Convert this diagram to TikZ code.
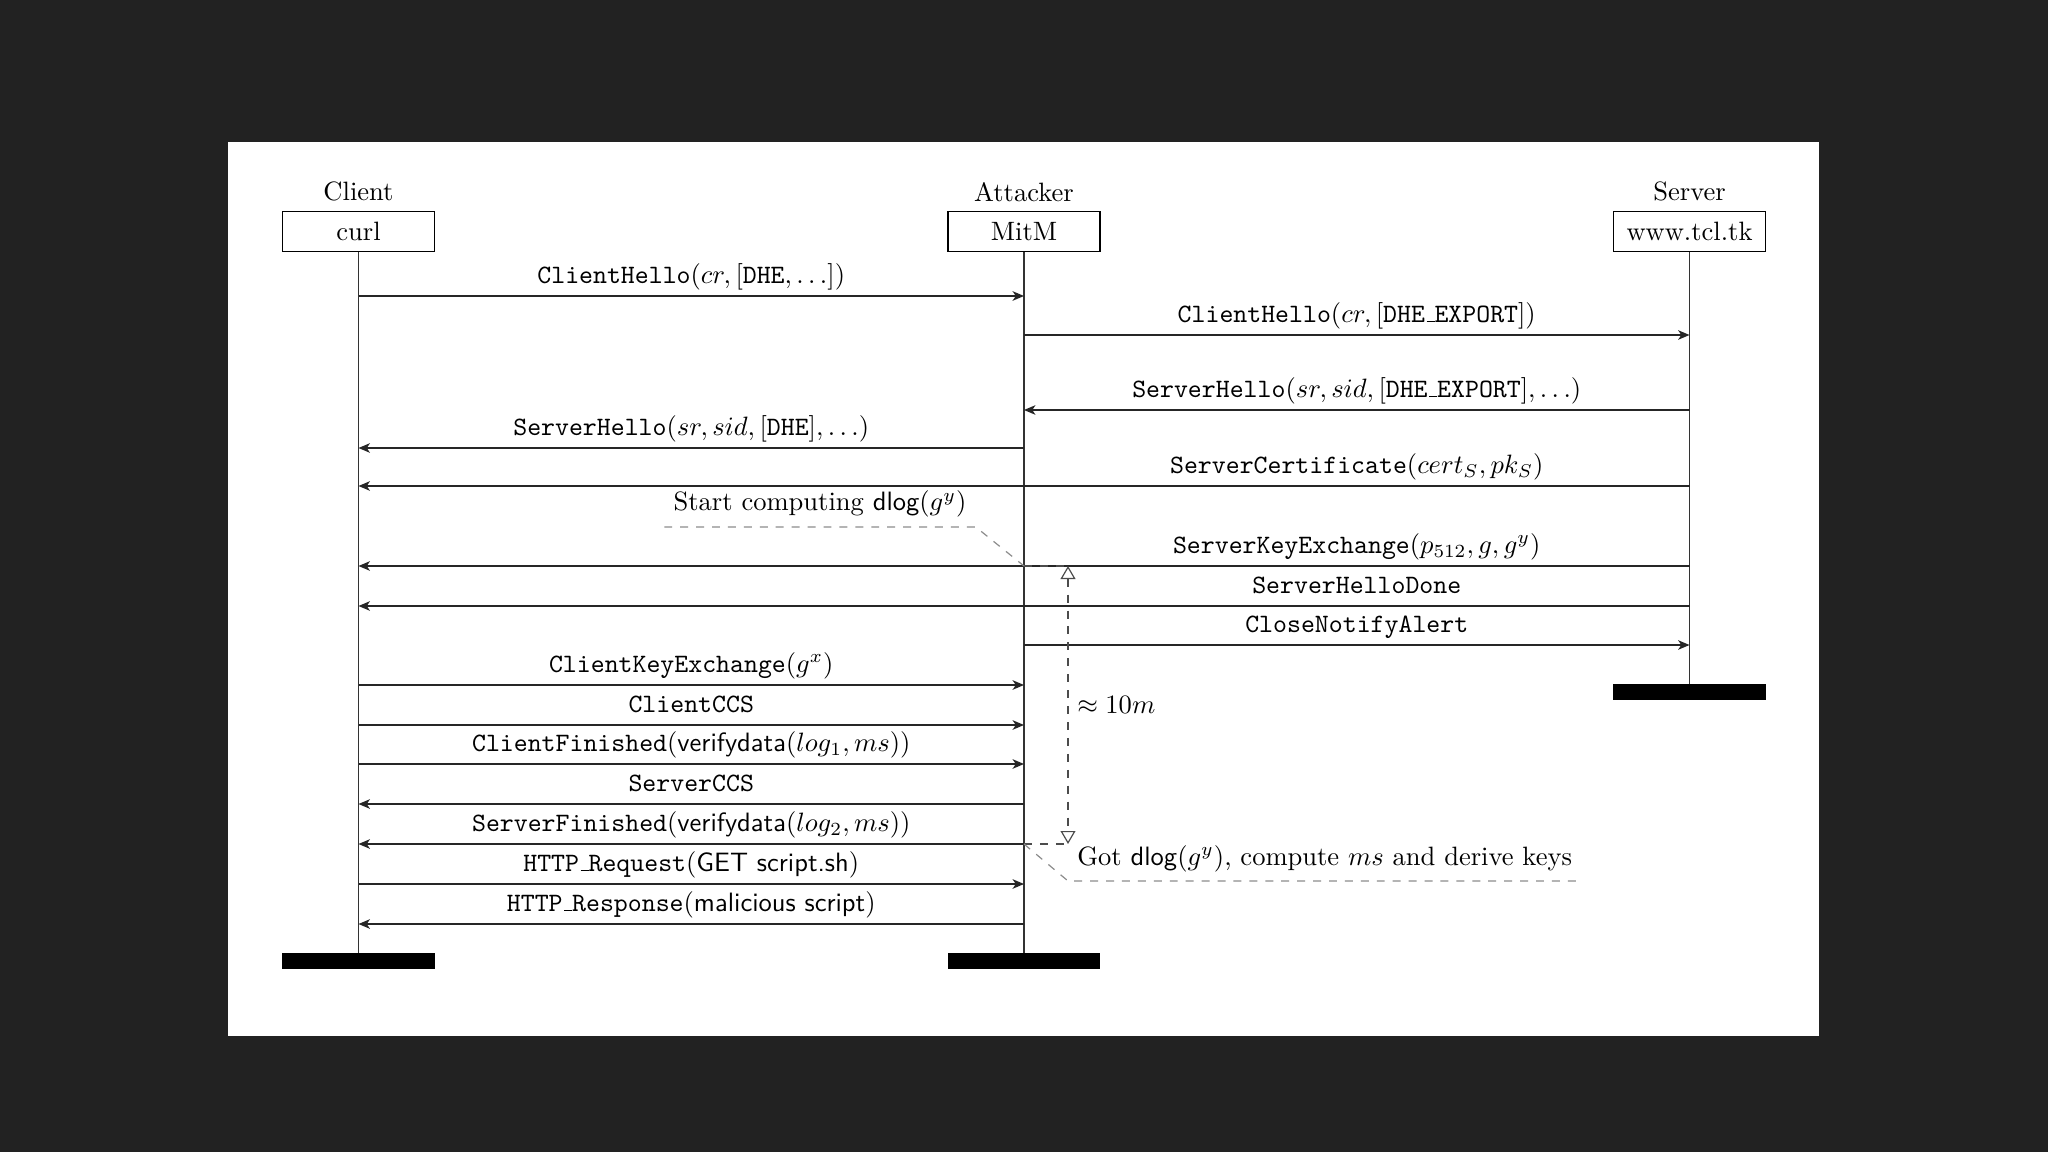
\documentclass[tikz,border=0pt]{standalone}
\usepackage{tikz}
\usetikzlibrary{arrows.meta,positioning}
\usepackage{amsmath}
\definecolor{framedark}{HTML}{222222}
\definecolor{notegray}{HTML}{8C8C8C}
\newcommand{\usc}{\leavevmode\kern.06em\vbox{\hrule width.3em}}
\tikzset{
  actor/.style={inner sep=3.33pt},
  hostbox/.style={draw=black,line width=0.5pt,minimum width=57.3pt,minimum height=15.1pt,inner sep=2pt},
  endbar/.style={fill=black,minimum width=57.3pt,minimum height=6pt,inner sep=0pt},
  lifeline/.style={draw=black!80,line width=0.45pt},
  msg/.style={-{Stealth[length=4.3pt,width=3.6pt,inset=1.2pt]},line width=0.5pt,draw=black!85},
  msglabel/.style={above,inner sep=0pt,text depth=0pt,yshift=4.6pt},
  timeflow/.style={dashed,line width=0.45pt,draw=black!70},
  timetip/.style={{Triangle[open,length=4.9pt,width=5.6pt]}-{Triangle[open,length=4.9pt,width=5.6pt]}},
  note/.style={inner sep=3.33pt},
  noteline/.style={dashed,line width=0.45pt,draw=notegray}
}
\begin{document}
\begin{tikzpicture}[x=0.3768pt,y=0.3768pt]
  \fill[framedark] (0,0) rectangle (2048,-1152);
  \fill[white] (228,-142) rectangle (1819,-1036);
  % hosts and lifelines
  \node[hostbox] (curl) at (358.5,-231.5) {curl};
  \node[hostbox] (mitm) at (1024,-231.5) {MitM};
  \node[hostbox] (tcl) at (1689.5,-231.5) {www.tcl.tk};
  \node[actor,above=0pt of curl] (client) {Client};
  \node[actor,above=0pt of mitm] (attacker) {Attacker};
  \node[actor,above=0pt of tcl] (server) {Server};
  \node[endbar] (curlend) at (358.5,-961) {};
  \node[endbar] (mitmend) at (1024,-961) {};
  \node[endbar] (tclend) at (1689.5,-692) {};
  \draw[lifeline] (curl) -- (curlend);
  \draw[lifeline] (mitm) -- (mitmend);
  \draw[lifeline] (tcl) -- (tclend);
  % message rows
  \path (0,-296) coordinate (r1) (0,-335) coordinate (r2) (0,-410) coordinate (r3)
        (0,-448) coordinate (r4) (0,-486) coordinate (r5) (0,-566) coordinate (r6)
        (0,-606) coordinate (r7) (0,-645) coordinate (r8) (0,-685) coordinate (r9)
        (0,-725) coordinate (r10) (0,-764) coordinate (r11) (0,-804) coordinate (r12)
        (0,-844) coordinate (r13) (0,-884) coordinate (r14) (0,-924) coordinate (r15);
  \draw[msg] (curl |- r1) -- node[msglabel] {\texttt{ClientHello}$(cr,[\texttt{DHE},\ldots])$} (mitm |- r1);
  \draw[msg] (mitm |- r2) -- node[msglabel] {\texttt{ClientHello}$(cr,[\texttt{DHE\usc EXPORT}])$} (tcl |- r2);
  \draw[msg] (tcl |- r3) -- node[msglabel] {\texttt{ServerHello}$(sr,sid,[\texttt{DHE\usc EXPORT}],\ldots)$} (mitm |- r3);
  \draw[msg] (mitm |- r4) -- node[msglabel] {\texttt{ServerHello}$(sr,sid,[\texttt{DHE}],\ldots)$} (curl |- r4);
  \draw[msg] (tcl |- r5) -- node[msglabel,pos=0.25] {\texttt{ServerCertificate}$(cert_S,pk_S)$} (curl |- r5);
  \draw[msg] (tcl |- r6) -- node[msglabel,pos=0.25] {\texttt{ServerKeyExchange}$(p_{512},g,g^y)$} (curl |- r6);
  \draw[msg] (tcl |- r7) -- node[msglabel,pos=0.25] {\texttt{ServerHelloDone}} (curl |- r7);
  \draw[msg] (mitm |- r8) -- node[msglabel] {\texttt{CloseNotifyAlert}} (tcl |- r8);
  \draw[msg] (curl |- r9) -- node[msglabel] {\texttt{ClientKeyExchange}$(g^x)$} (mitm |- r9);
  \draw[msg] (curl |- r10) -- node[msglabel] {\texttt{ClientCCS}} (mitm |- r10);
  \draw[msg] (curl |- r11) -- node[msglabel] {\texttt{ClientFinished}$(\textsf{verifydata}(log_1,ms))$} (mitm |- r11);
  \draw[msg] (mitm |- r12) -- node[msglabel] {\texttt{ServerCCS}} (curl |- r12);
  \draw[msg] (mitm |- r13) -- node[msglabel] {\texttt{ServerFinished}$(\textsf{verifydata}(log_2,ms))$} (curl |- r13);
  \draw[msg] (curl |- r14) -- node[msglabel] {\texttt{HTTP\usc Request}$(\textsf{GET script.sh})$} (mitm |- r14);
  \draw[msg] (mitm |- r15) -- node[msglabel] {\texttt{HTTP\usc Response}$(\textsf{malicious script})$} (curl |- r15);
  % dlog timing
  \coordinate (ta) at (1068,-566);
  \coordinate (tb) at (1068,-844);
  \draw[timeflow] (mitm |- r6) -- (ta);
  \draw[timeflow] (mitm |- r13) -- (tb);
  \draw[timeflow,timetip] (ta) -- node[right] {$\approx 10m$} (tb);
  \node[note,anchor=south] (startnote) at (820,-527) {Start computing \textsf{dlog}$(g^y)$};
  \draw[noteline] (startnote.south west) -- (startnote.south east) -- (mitm |- r6);
  \node[note,anchor=south west] (gotnote) at (1068,-881) {Got \textsf{dlog}$(g^y)$, compute $ms$ and derive keys};
  \draw[noteline] (mitm |- r13) -- (gotnote.south west) -- (gotnote.south east);
\end{tikzpicture}
\end{document}
